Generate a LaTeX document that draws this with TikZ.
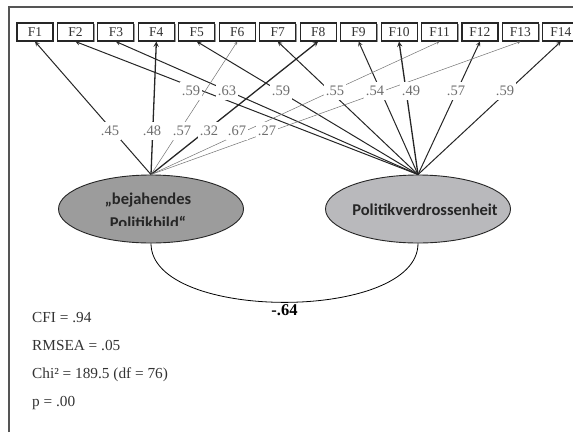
\documentclass[tikz,border=0pt]{standalone}
\usepackage{fontspec}
\setmainfont{Liberation Serif}
\newfontfamily\latentfont{Carlito}
\usetikzlibrary{positioning, calc, arrows, shapes.geometric, shadows}
\definecolor{labelgray}{HTML}{6E6E6E}
\definecolor{darkfill}{HTML}{9C9C9C}
\definecolor{lightfill}{HTML}{B9B9BC}
\definecolor{framegray}{HTML}{555555}
\tikzset{item/.style={rectangle, draw=black!85, line width=1.1pt, fill=white, minimum width=36pt, minimum height=18pt, inner sep=0pt, text=black!80, font=\fontsize{13.5}{15}\selectfont, drop shadow={shadow xshift=1.2pt, shadow yshift=-1.2pt, fill=black!40, opacity=1}},
         latent/.style={ellipse, draw=black!85, line width=0.9pt, minimum width=185pt, minimum height=68pt, inner sep=0pt},
         latenttext/.style={anchor=base, inner sep=0pt, text=black!85, font=\latentfont\bfseries\fontsize{16.5}{19}\selectfont},
         loadline/.style={->, >=stealth, line width=1pt, draw=black!85},
         faint/.style={loadline, line width=0.5pt, draw=black!55},
         strong/.style={loadline, line width=1.3pt},
         loading/.style={fill=white, inner xsep=2pt, inner ysep=4pt, text=labelgray, font=\fontsize{14.5}{16}\selectfont},
         fitstat/.style={anchor=base west, inner sep=0pt, text=black!80, font=\fontsize{15.3}{17}\selectfont}}

\begin{document}
\begin{tikzpicture}[x=1pt, y=-1pt]
        \clip (0,0) rectangle (573,432);
        \draw [framegray, line width=1.3pt] (9,432) -- (9,7) -- (573,7);

        % indicators
        \foreach \i in {1,...,14}
            \node (F\i)[item] at ({35+(\i-1)*40.45}, 32) {F\i};

        % latent variables
        \node (bild)[latent, fill=darkfill] at (151,209) {};
        \node (verdr)[latent, fill=lightfill] at (418,209) {};
        \node (verdrtext)[latenttext] at (425,215) {Politikverdrossenheit};
        \begin{scope}
            \clip (55,180) rectangle (250,225.5);
            \node (bildA)[latenttext] at (148,204) {„bejahendes};
            \node (bildB)[latenttext] at (148,228) {Politikbild“};
        \end{scope}

        % loadings
        \foreach \t/\w in {2/loadline, 3/loadline, 5/loadline, 7/loadline, 9/loadline, 10/strong, 12/loadline, 14/loadline}
            \draw [\w] (verdr.north) -- (F\t.south);
        \foreach \t/\w in {1/loadline, 4/strong, 6/faint, 8/strong, 11/faint, 13/faint}
            \draw [\w] (bild.north) -- (F\t.south);
        \foreach \t/\x/\v in {2/191/.59, 3/227/.63, 5/281/.59, 7/335/.55, 9/375/.54, 10/411/.49, 12/456/.57, 14/505/.59}
            \node (r\t)[loading] at (\x,91) {\v};
        \foreach \t/\x/\v in {1/110/.45, 4/152/.48, 6/182/.57, 8/209/.32, 11/237/.67, 13/267/.27}
            \node (b\t)[loading] at (\x,131) {\v};

        % correlation
        \draw [line width=0.8pt] (bild.south) .. controls (151,322) and (418,322) .. node[pos=0.5, yshift=-8pt, fill=white, inner sep=1pt, font=\bfseries\fontsize{16.5}{18}\selectfont]{-.64} (verdr.south);

        % fit
        \node (cfi)[fitstat] at (32,322) {CFI = .94};
        \node (rmsea)[fitstat] at (32,350) {RMSEA = .05};
        \node (chi)[fitstat] at (32,378) {Chi² = 189.5 (df = 76)};
        \node (pval)[fitstat] at (32,406) {p = .00};
\end{tikzpicture}
\end{document}
